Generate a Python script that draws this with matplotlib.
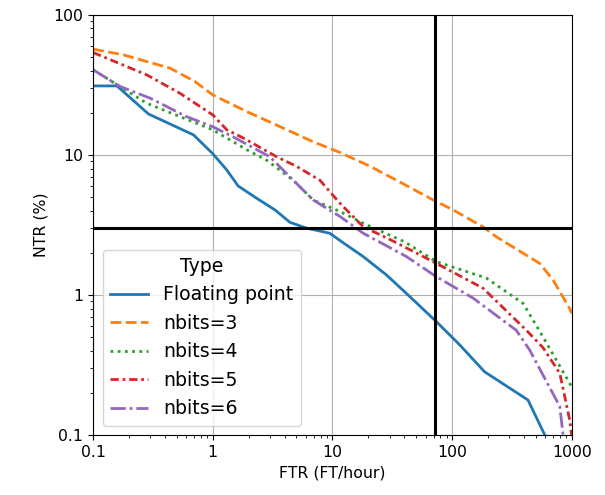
import numpy as np
import matplotlib
matplotlib.use("Agg")
import matplotlib.pyplot as plt
from matplotlib.ticker import FuncFormatter, NullFormatter

plt.rcParams['font.size'] = 11.3

# Floating point
fp_ftr = [0.1, 0.158, 0.29, 0.69, 1.0, 1.31, 1.63, 2.33, 3.31, 4.42, 6.1, 9.5, 12.3,
          18.1, 28.3, 42.9, 74, 116, 187, 431, 596]
fp_ntr = [31.1, 31.1, 19.6, 13.9, 10.2, 7.8, 6.0, 4.9, 4.05, 3.3, 3.0, 2.76, 2.36,
          1.88, 1.39, 1.0, 0.645, 0.44, 0.283, 0.178, 0.1]

# nbits=3
n3_ftr = [0.1, 0.179, 0.44, 0.71, 1.0, 1.92, 3.65, 6.92, 11.6, 20.6, 34.3, 69.5,
          102, 181, 235, 541, 698, 962, 1000]
n3_ntr = [56.9, 51.8, 41.6, 33.4, 26.8, 20.4, 15.9, 12.4, 10.4, 8.3, 6.6, 4.77,
          4.05, 3.07, 2.6, 1.68, 1.28, 0.8, 0.74]

# nbits=4
n4_ftr = [0.1, 0.28, 0.53, 1.0, 1.92, 2.8, 4.7, 6.9, 11.6, 18.1, 40, 74, 194,
          393, 577, 962, 1000]
n4_ntr = [40.5, 23.4, 18.8, 15.1, 10.9, 9.2, 6.6, 4.77, 3.94, 3.25, 2.4, 1.73, 1.32,
          0.87, 0.5, 0.234, 0.22]

# nbits=5
n5_ftr = [0.1, 0.28, 0.53, 1.0, 1.31, 1.8, 3.42, 5.0, 7.85, 11.6, 18.1, 30, 50,
          74, 181, 418, 577, 795, 962, 1000]
n5_ntr = [53.8, 37.3, 27.6, 19.3, 15.1, 13.2, 9.7, 8.3, 6.6, 4.5, 3.07, 2.5, 2.0,
          1.68, 1.12, 0.56, 0.42, 0.276, 0.128, 0.1]

# nbits=6
n6_ftr = [0.1, 0.168, 0.3, 0.6, 1.0, 1.47, 3.0, 4.7, 6.9, 11.6, 18.1, 41.6, 74,
          150, 344, 445, 795, 847]
n6_ntr = [40.5, 30.8, 25.4, 18.8, 15.9, 13.5, 9.7, 6.6, 4.77, 3.63, 2.76, 1.88,
          1.35, 0.95, 0.56, 0.405, 0.16, 0.1]

ftr_threshold = 72
ntr_threshold = 3

fig = plt.figure(figsize=(6.05, 4.95), dpi=100)
ax = fig.add_axes([0.154, 0.121, 0.791, 0.849])

lw = 2
ax.plot(fp_ftr, fp_ntr, '-', lw=lw, color='tab:blue', label='Floating point')
ax.plot(n3_ftr, n3_ntr, lw=lw, linestyle=(0, (3.9, 1.6)), color='tab:orange', label='nbits=3')
ax.plot(n4_ftr, n4_ntr, lw=lw, linestyle=(0, (1, 1.6)), color='tab:green', label='nbits=4')
ax.plot(n5_ftr, n5_ntr, lw=lw, linestyle=(0, (3, 1.35, 1, 1.35)), color='tab:red', label='nbits=5')
ax.plot(n6_ftr, n6_ntr, lw=lw, linestyle=(0, (5.5, 1.4, 1, 1.4)), color='tab:purple', label='nbits=6')

ax.axvline(ftr_threshold, color='black', lw=2.2)
ax.axhline(ntr_threshold, color='black', lw=2.2)

ax.set_xscale('log')
ax.set_yscale('log')
ax.set_xlim(0.1, 1000)
ax.set_ylim(0.1, 100)
fmt = FuncFormatter(lambda v, p: f'{v:g}')
ax.xaxis.set_major_formatter(fmt)
ax.yaxis.set_major_formatter(fmt)
ax.xaxis.set_minor_formatter(NullFormatter())
ax.yaxis.set_minor_formatter(NullFormatter())
ax.grid(True, which='major')

ax.set_xlabel('FTR (FT/hour)')
ax.set_ylabel('NTR (%)')
ax.legend(title='Type', loc='lower left', fontsize='large', title_fontsize='large')

fig.savefig('out.png', dpi=100)
